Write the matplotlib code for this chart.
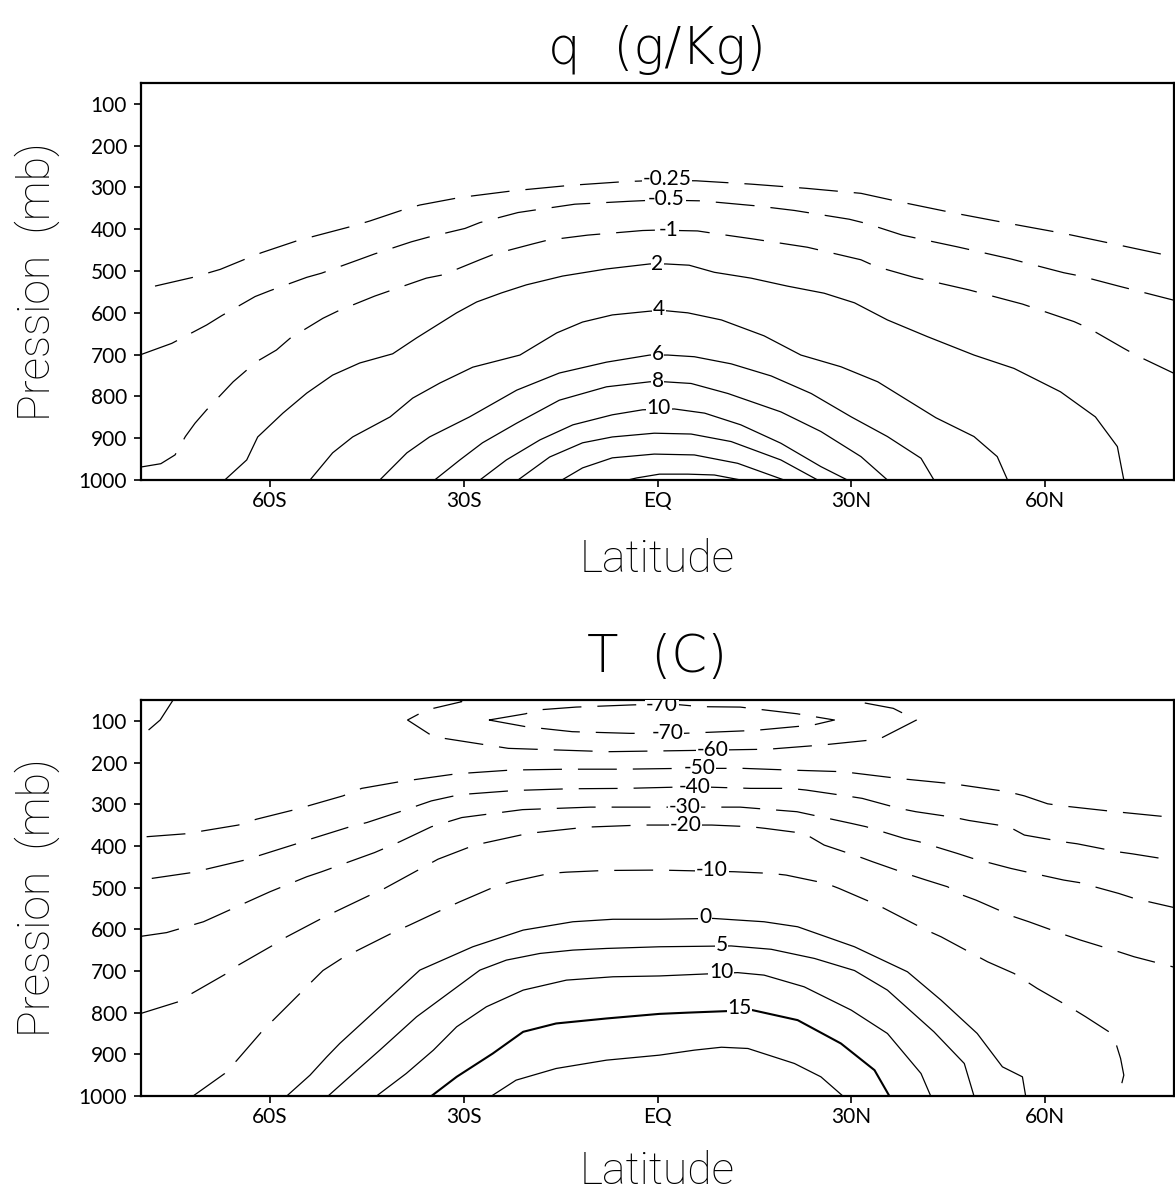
import matplotlib
matplotlib.use("Agg")
import matplotlib.pyplot as plt

plt.rcParams["lines.scale_dashes"] = False

# axes ticks
lat_ticks = [-60, -30, 0, 30, 60]
lat_labels = ["60S", "30S", "EQ", "30N", "60N"]
p_ticks = [100, 200, 300, 400, 500, 600, 700, 800, 900, 1000]

# ---- q (g/Kg): each contour is a list of (latitude, pressure) points ----
q_m025 = [(-77.8, 536), (-71.9, 515), (-67.7, 496), (-63.6, 470), (-61.3, 456), (-55.9, 428),
          (-53.0, 416), (-47.1, 392), (-44.5, 380), (-39.1, 352), (-36.8, 342), (-30.6, 324),
          (-22.4, 308), (-13.6, 295), (-5.1, 286), (0, 283), (6.0, 284), (14.5, 292), (23.0, 302),
          (31.5, 314), (37.7, 335), (46.2, 362), (54.4, 386), (62.9, 410), (71.2, 437), (80, 466)]
q_m05 = [(-80, 700), (-75.2, 673), (-69.8, 629), (-67.5, 607), (-62.3, 561), (-60.0, 547),
         (-54.3, 515), (-52.0, 505), (-46.1, 472), (-43.8, 459), (-38.1, 430), (-35.5, 419),
         (-29.8, 398), (-27.5, 384), (-21.6, 360), (-19.0, 354), (-12.8, 340), (-4.3, 333), (0, 330),
         (6.8, 332), (15.3, 344), (21.2, 355), (29.7, 376), (32.3, 386), (37.9, 414), (40.3, 422),
         (46.4, 442), (54.7, 471), (62.9, 504), (65.5, 512), (71.4, 536), (80, 570)]
q_m1 = [(-80, 969), (-76.9, 961), (-74.7, 940), (-73.1, 896), (-71.6, 864), (-69.8, 832),
        (-65.7, 765), (-62.1, 717), (-59.0, 689), (-56.9, 661), (-51.8, 613), (-49.4, 595),
        (-43.8, 560), (-41.4, 547), (-35.8, 517), (-33.2, 509), (-27.5, 473), (-25.2, 459),
        (-19.3, 435), (-17.0, 426), (-10.8, 414), (-2.3, 403), (0, 402), (6.2, 404), (8.8, 410),
        (14.7, 423), (23.2, 443), (31.5, 473), (33.8, 489), (39.7, 515), (48.2, 545), (56.5, 579),
        (64.5, 621), (66.8, 637), (72.2, 685), (74.3, 703), (80, 745)]
q_2 = [(-67.0, 1000), (-63.6, 952), (-61.9, 897), (-58.0, 840), (-54.3, 792), (-50.3, 749),
       (-46.1, 720), (-41.0, 698), (-37.3, 660), (-31.1, 600), (-28.0, 574), (-24.1, 552),
       (-20.3, 533), (-14.7, 512), (-7.9, 495), (-1.2, 483), (1.3, 483), (4.9, 486), (8.8, 503),
       (14.5, 517), (20.1, 536), (25.8, 553), (30.5, 576), (35.6, 617), (41.8, 657), (49.0, 701),
       (55.2, 733), (62.4, 789), (67.8, 849), (71.2, 920), (72.2, 1000)]
q_4 = [(-53.8, 1000), (-50.3, 935), (-47.2, 897), (-41.4, 849), (-37.9, 804), (-33.7, 768),
       (-28.6, 730), (-21.3, 701), (-15.6, 648), (-11.6, 622), (-7.0, 605), (-1.2, 596), (1.3, 595),
       (4.7, 600), (9.9, 617), (16.5, 655), (22.2, 701), (28.4, 729), (34.1, 765), (38.7, 809),
       (43.1, 851), (49.0, 896), (52.6, 944), (54.2, 1000)]
q_6 = [(-43.0, 1000), (-38.8, 935), (-35.3, 897), (-29.1, 849), (-21.8, 785), (-15.2, 744),
       (-7.9, 718), (-1.2, 701), (1.6, 701), (5.7, 705), (11.4, 722), (17.6, 751), (23.8, 793),
       (30.0, 849), (35.6, 896), (40.8, 948), (42.8, 1000)]
q_8 = [(-34.5, 1000), (-30.6, 952), (-27.1, 911), (-21.8, 864), (-15.2, 809), (-7.9, 777),
       (-1.2, 765), (1.1, 765), (5.2, 769), (10.9, 793), (19.1, 837), (25.3, 884), (31.5, 944),
       (35.6, 1000)]
q_10 = [(-27.5, 1000), (-23.4, 952), (-18.2, 904), (-13.1, 868), (-7.0, 844), (-2.3, 832),
        (2.6, 830), (7.3, 840), (12.9, 868), (19.1, 912), (25.3, 968), (29.4, 1000)]
q_12 = [(-21.6, 1000), (-16.7, 945), (-11.6, 911), (-7.0, 897), (-0.5, 888), (5.2, 890),
        (11.4, 908), (19.1, 952), (24.8, 1000)]
q_14 = [(-14.8, 1000), (-11.6, 971), (-7.0, 947), (-0.5, 938), (5.7, 940), (12.4, 960), (19.6, 1000)]
q_16 = [(-4.6, 1000), (-3.2, 995), (0.3, 986), (4.7, 986), (8.8, 988), (12.9, 1000)]

q_levels = [-0.25, -0.5, -1, 2, 4, 6, 8, 10, 12, 14, 16]
q_lines = [q_m025, q_m05, q_m1, q_2, q_4, q_6, q_8, q_10, q_12, q_14, q_16]
# where each labelled contour carries its value
q_label_lat = [1.5, 1.4, 1.7, 0.0, 0.2, 0.0, 0.0, 0.2, None, None, None]
q_label_p = [280, 327, 402, 483, 591, 698, 763, 828, None, None, None]

# ---- T (C) ----
t_m70 = [(-26.1, 98), (-20.4, 83), (-18.7, 74), (-12.6, 67), (-4.3, 62), (1.7, 59), (6.7, 66),
         (12.8, 67), (21.6, 83), (27.4, 98), (24.1, 110), (15.0, 123), (4.0, 130), (-4.3, 130),
         (-13.2, 126), (-20.4, 114), (-26.1, 98)]
t_m60 = [(-31.5, 40), (-30.3, 54), (-35.8, 74), (-38.7, 98), (-34.7, 138), (-23.1, 166),
         (-7.6, 174), (5.6, 171), (17.2, 168), (25.5, 158), (34.3, 144), (40.1, 98), (36.5, 70),
         (31.0, 54), (29.5, 40)]
t_m60_pole = [(-78.8, 122), (-77.0, 98), (-75.0, 50), (-74.5, 40)]
t_m50 = [(-79.1, 378), (-73.1, 371), (-64.9, 350), (-62.1, 336), (-56.4, 314), (-54.1, 304),
         (-48.7, 280), (-45.8, 262), (-39.9, 246), (-31.1, 227), (-22.6, 218), (-14.0, 216),
         (-5.4, 216), (4.0, 214), (13.3, 214), (20.3, 218), (28.7, 222), (37.2, 238), (45.7, 251),
         (54.2, 270), (56.8, 280), (60.4, 299), (62.7, 304), (70.9, 318), (80, 332)]
t_m40 = [(-78.3, 478), (-72.1, 464), (-63.9, 434), (-55.9, 395), (-53.6, 383), (-47.6, 354),
         (-45.0, 344), (-39.9, 318), (-35.0, 292), (-30.6, 277), (-22.0, 267), (-13.7, 263),
         (-4.9, 262), (5.7, 258), (14.4, 262), (20.5, 262), (23.0, 266), (29.2, 280), (31.7, 286),
         (37.4, 310), (40.0, 318), (45.7, 331), (48.2, 339), (54.4, 354), (56.8, 374), (62.7, 390),
         (65.0, 395), (71.2, 414), (73.5, 419), (80, 435)]
t_m30 = [(-80, 617), (-76.0, 608), (-70.3, 582), (-68.0, 566), (-62.3, 526), (-60.0, 510),
         (-54.3, 474), (-52.0, 462), (-46.3, 430), (-43.8, 416), (-39.9, 390), (-35.0, 354),
         (-30.3, 332), (-20.9, 313), (-10.4, 307), (-1.9, 307), (6.7, 307), (12.8, 307), (21.6, 318),
         (24.0, 326), (30.0, 346), (32.3, 354), (38.2, 382), (40.5, 390), (46.4, 418), (48.8, 430),
         (54.7, 454), (57.0, 462), (62.9, 482), (65.3, 488), (71.4, 514), (73.8, 526), (80, 548)]
t_m20 = [(-80, 802), (-74.2, 774), (-72.1, 754), (-66.7, 706), (-64.9, 686), (-59.5, 638),
         (-57.4, 618), (-52.0, 574), (-49.9, 558), (-44.5, 518), (-42.5, 504), (-39.9, 482),
         (-34.0, 432), (-28.3, 398), (-20.0, 370), (-11.0, 355), (-2.4, 350), (8.4, 350), (14.4, 354),
         (16.7, 358), (22.7, 370), (25.8, 398), (31.2, 426), (33.3, 438), (39.2, 470), (41.6, 482),
         (44.9, 498), (47.2, 518), (49.3, 530), (55.2, 570), (57.5, 582), (63.2, 614), (65.5, 626),
         (71.4, 654), (73.8, 666), (80, 691)]
t_m10 = [(-71.9, 1000), (-67.0, 946), (-65.1, 914), (-61.3, 846), (-59.5, 818), (-55.1, 750),
         (-53.3, 722), (-51.8, 699), (-48.9, 670), (-46.1, 648), (-40.7, 606), (-38.4, 590),
         (-32.9, 550), (-30.6, 534), (-25.2, 498), (-22.6, 486), (-16.7, 466), (-14.1, 463),
         (-8.2, 459), (0.3, 458), (11.9, 462), (17.6, 466), (19.9, 470), (26.1, 490), (28.1, 502),
         (34.1, 542), (36.1, 558), (41.6, 602), (43.9, 618), (51.1, 678), (55.2, 706), (58.8, 742),
         (64.2, 790), (66.3, 810), (69.9, 846), (70.9, 870), (71.7, 910), (72.2, 950), (71.4, 1000)]
t_0 = [(-57.4, 1000), (-53.8, 950), (-51.2, 906), (-49.2, 874), (-43.0, 786), (-36.8, 698),
       (-28.6, 642), (-20.8, 602), (-13.1, 582), (-6.9, 576), (0.3, 576), (8.6, 574), (16.5, 582),
       (21.7, 594), (30.5, 642), (38.7, 702), (43.9, 770), (49.5, 850), (53.4, 930), (56.5, 954),
       (57.0, 1000)]
t_5 = [(-51.0, 1000), (-47.1, 946), (-43.0, 890), (-37.3, 810), (-27.5, 698), (-23.4, 674),
       (-18.2, 658), (-13.1, 650), (-7.9, 646), (0.3, 642), (11.4, 640), (17.6, 648), (24.3, 670),
       (30.5, 699), (35.6, 746), (42.8, 846), (47.5, 922), (49.0, 1000)]
t_10 = [(-43.5, 1000), (-38.9, 946), (-34.7, 890), (-31.1, 834), (-26.5, 786), (-20.8, 746),
        (-14.1, 722), (-6.9, 714), (0.3, 712), (12.4, 704), (16.5, 710), (22.7, 738), (30.0, 794),
        (35.6, 850), (40.8, 946), (42.3, 1000)]
t_15 = [(-35.0, 1000), (-31.1, 954), (-25.5, 898), (-20.8, 846), (-15.7, 826), (-7.9, 814),
        (0.3, 803), (4.7, 800), (14.7, 794), (21.7, 818), (28.4, 874), (33.6, 938), (35.9, 1000)]
t_20 = [(-25.7, 1000), (-21.9, 962), (-15.7, 934), (-7.9, 914), (0.3, 902), (5.7, 890), (9.9, 883),
        (14.0, 886), (21.2, 922), (25.3, 954), (28.7, 1000)]

t_levels = [-70, -60, -60, -50, -40, -30, -20, -10, 0, 5, 10, 15, 20]
t_lines = [t_m70, t_m60, t_m60_pole, t_m50, t_m40, t_m30, t_m20, t_m10, t_0, t_5, t_10, t_15, t_20]
t_label_levels = [-70, -70, -60, -50, -40, -30, -20, -10, 0, 5, 10, 15]
t_label_lat = [0.7, 1.5, 8.5, 6.5, 5.7, 4.2, 4.3, 8.4, 7.4, 9.9, 9.9, 12.7]
t_label_p = [62, 130, 171, 214, 258, 306, 350, 459, 571, 638, 703, 790]

W, H = 1175, 1193
fig = plt.figure(figsize=(W / 100, H / 100), dpi=100)

tick_font = ["Lato", "DejaVu Sans"]
name_font = ["Roboto", "Lato", "DejaVu Sans"]
dash = (0, (28, 11.5))


def fig_xy(px, py):
    return px / W, 1 - py / H


def setup_axes(ax):
    ax.set_xlim(-80, 80)
    ax.set_ylim(1000, 50)
    ax.set_xticks(lat_ticks)
    ax.set_xticklabels(lat_labels)
    ax.set_yticks(p_ticks)
    ax.set_yticklabels([str(v) for v in p_ticks])
    ax.tick_params(direction="out", length=5, width=1.2, labelsize=15, top=False, right=False)
    ax.tick_params(axis="y", pad=5)
    ax.tick_params(axis="x", pad=3)
    for lab in ax.get_xticklabels() + ax.get_yticklabels():
        lab.set_family(tick_font)
    for sp in ax.spines.values():
        sp.set_linewidth(1.6)


def draw_contours(ax, levels, lines, heavy=None):
    for lev, pts in zip(levels, lines):
        lats = [a for a, b in pts]
        ps = [b for a, b in pts]
        lw = 1.5 if lev == heavy else 0.9
        ls = dash if lev < 0 else "-"
        ax.plot(lats, ps, color="black", lw=lw, linestyle=ls, solid_joinstyle="round")


def draw_labels(ax, levels, lats, ps):
    for lev, la, pp in zip(levels, lats, ps):
        if la is None:
            continue
        ax.text(la, pp, f"{lev:g}", ha="center", va="center", fontsize=15,
                family=tick_font, clip_on=True, zorder=5,
                bbox=dict(facecolor="white", edgecolor="none", pad=0.6))


# top panel: specific humidity
ax1 = fig.add_axes([140.8 / W, 1 - 480 / H, 1033.4 / W, 397 / H])
setup_axes(ax1)
draw_contours(ax1, q_levels, q_lines)
draw_labels(ax1, q_levels, q_label_lat, q_label_p)

# bottom panel: temperature
ax2 = fig.add_axes([140.8 / W, 1 - 1096 / H, 1033.4 / W, 396 / H])
setup_axes(ax2)
draw_contours(ax2, t_levels, t_lines, heavy=15)
draw_labels(ax2, t_label_levels, t_label_lat, t_label_p)

# titles and axis names
fig.text(*fig_xy(657, 64), "q  (g/Kg)", ha="center", va="baseline", fontsize=37,
         family=["DejaVu Sans"], weight="light")
fig.text(*fig_xy(657, 672), "T  (C)", ha="center", va="baseline", fontsize=37,
         family=["DejaVu Sans"], weight="light")
for yb in (572, 1184):
    fig.text(*fig_xy(657, yb), "Latitude", ha="center", va="baseline", fontsize=32,
             family=name_font, weight="light")
for yc in (282, 898):
    fig.text(*fig_xy(37, yc), "Pression  (mb)", ha="center", va="center", rotation=90,
             fontsize=32, family=name_font, weight="light")

fig.savefig("out.png", dpi=100, facecolor="white")
